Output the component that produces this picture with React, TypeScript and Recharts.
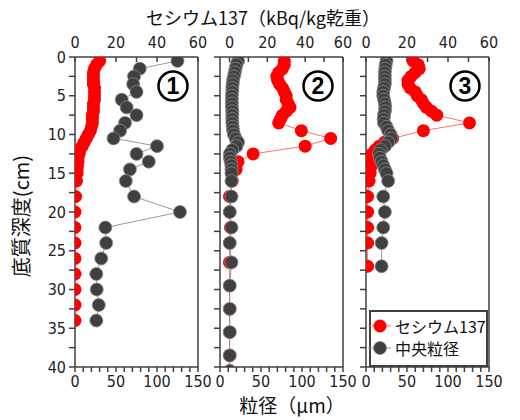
import React from 'react';
import { ScatterChart, Scatter, XAxis, YAxis } from 'recharts';

// axis ticks
const depthTicks = [0, 2.5, 5, 7.5, 10, 12.5, 15, 17.5, 20, 22.5, 25, 27.5, 30, 32.5, 35, 37.5, 40];
const grainTicks = [0, 10, 20, 30, 40, 50, 60, 70, 80, 90, 100, 110, 120, 130, 140, 150];
const csTicks = [0, 10, 20, 30, 40, 50, 60];

// ① セシウム137 / 中央粒径
const p1CsDepth = [0.5, 1, 1.5, 2, 2.5, 3, 3.5, 4, 4.5, 5, 5.5, 6, 6.5, 7, 7.5, 8, 8.5, 9, 9.5, 10, 10.5, 11, 11.5, 12, 12.5, 13, 13.5, 14, 14.5, 15, 16, 18, 20, 22, 24, 26, 28, 30, 32, 34];
const p1Cs = [12, 10.5, 9.5, 9, 9, 9, 9, 9.5, 9.5, 9.5, 9.5, 9, 9, 9, 8.5, 8.5, 8.5, 8, 7.5, 6.5, 5.5, 4.5, 3.5, 2.5, 2, 1.5, 1.5, 1.2, 1, 1, 0.7, 0.3, 0, 0, 0, 0, 0, 0, 0, 0];
const p1GrainDepth = [0.5, 1.5, 2.5, 3.5, 4.5, 5.5, 6.5, 7.5, 8.5, 9.5, 10.5, 11.5, 12.5, 13.5, 14.5, 16, 18, 20, 22, 24, 26, 28, 30, 32, 34];
const p1Grain = [125, 79, 72, 71, 75, 57, 63, 75, 61, 55, 47, 100, 75, 90, 67, 62, 72, 128, 37, 38, 32, 26, 26.5, 29, 26];

// ②
const p2CsDepth = [0.5, 1, 1.5, 2, 2.5, 3, 3.5, 4, 4.5, 5, 5.5, 6, 6.5, 7, 7.5, 8, 8.5, 9.5, 10.5, 11.5, 12.5, 13.5, 14.5, 16, 18, 20, 22, 24, 26.5, 29.5, 32.5, 35.5, 38.5, 40.5];
const p2Cs = [29, 29, 28, 26, 25, 25.5, 26.5, 28, 29, 30, 30, 31, 32, 30, 28, 27, 26, 38, 53.5, 40, 12.5, 4.5, 3.5, 1.5, 0, 0, 0.5, 0, 0, 0, 0, 0, 0, 0];
const p2GrainDepth = [0.5, 1, 1.5, 2, 2.5, 3, 3.5, 4, 4.5, 5, 5.5, 6, 6.5, 7, 7.5, 8, 8.5, 9, 9.5, 10, 10.5, 11, 11.5, 12, 12.5, 13, 13.5, 14, 14.5, 15, 16, 18, 20, 22, 24, 26.5, 29.5, 32.5, 35.5, 38.5, 40.5];
const p2Grain = [22, 20, 19, 18, 17, 16, 15.5, 15, 15, 14.5, 14.5, 14.5, 14.5, 15, 15, 15, 15, 15.5, 16, 17, 19, 22, 20, 15, 12, 12, 13, 14, 14, 14, 14, 14, 12, 14, 12, 14, 12, 12, 12, 12, 12];

// ③
const p3CsDepth = [0.5, 1, 1.5, 2, 2.5, 3, 3.5, 4, 4.5, 5, 5.5, 6, 6.5, 7, 7.5, 8.5, 9.5, 10.5, 11, 11.5, 12, 12.5, 13, 13.5, 14, 14.5, 15, 16, 18, 20, 22, 24, 27];
const p3Cs = [23, 25.5, 26, 24, 22, 20.5, 20.5, 21.5, 24, 25, 27, 28, 29.5, 32, 34.5, 50.5, 28, 13, 9, 6.5, 4.5, 3, 2.5, 2.5, 2.5, 2, 2, 1.5, 0.8, 0.8, 0.8, 0.8, 0.8];
const p3GrainDepth = [0.5, 1, 1.5, 2, 2.5, 3, 3.5, 4, 4.5, 5, 5.5, 6, 6.5, 7, 7.5, 8, 8.5, 9, 9.5, 10, 10.5, 11, 11.5, 12, 12.5, 13, 13.5, 14, 14.5, 15, 16, 18, 20, 22, 24, 27];
const p3Grain = [25, 24, 23.5, 23, 23, 23, 23, 22, 21, 21, 22, 23, 23.5, 23, 22, 21.5, 22, 25, 27, 30, 31, 27, 23, 18, 16, 17, 19, 21, 23, 25, 27, 21, 23, 21, 19, 19];

const toPoints = (depths: number[], values: number[]) => depths.map((d, i) => ({ x: values[i], y: d }));

const AXIS = '#404040';
const axisStyle = { stroke: AXIS, strokeWidth: 1.5 };
const tickFont = { fill: '#222', fontSize: 16, fontFamily: "'Liberation Sans Narrow', 'DejaVu Sans Condensed', 'Liberation Sans', sans-serif" };
const jpFont = "'Noto Sans CJK JP', sans-serif";

const PLOT_W = 123;
const LEFT_W = 40;
const RIGHT_W = 25;

const redDot = (p: any) => <circle cx={p.cx} cy={p.cy} r={6.5} fill="#ff0000" />;
const grayDot = (p: any) => <circle cx={p.cx} cy={p.cy} r={6.5} fill="#404040" stroke="#8a8a8a" strokeWidth={0.8} />;

interface PanelProps {
  plotLeft: number;
  csDomain: [number, number];
  cs: { x: number; y: number }[];
  grain: { x: number; y: number }[];
  depthLabels: boolean;
}

const Panel: React.FC<PanelProps> = ({ plotLeft, csDomain, cs, grain, depthLabels }) => (
  <div style={{ position: 'absolute', left: plotLeft - LEFT_W, top: 0 }}>
    <ScatterChart width={LEFT_W + PLOT_W + RIGHT_W} height={420} margin={{ top: 0, right: 0, bottom: 0, left: 0 }}>
      <XAxis
        xAxisId="cs" orientation="top" type="number" dataKey="x" domain={csDomain} ticks={csTicks} interval={0}
        tickFormatter={(v: number) => (v % 20 === 0 ? String(v) : '')}
        height={57} tickSize={-5} tickMargin={14} allowDataOverflow
        axisLine={axisStyle} tickLine={axisStyle} tick={tickFont}
      />
      <XAxis
        xAxisId="grain" orientation="bottom" type="number" dataKey="x" domain={[0, 150]} ticks={grainTicks} interval={0}
        tickFormatter={(v: number) => (v % 50 === 0 ? String(v) : '')}
        height={53} tickSize={5} tickMargin={4} allowDataOverflow
        axisLine={axisStyle} tickLine={axisStyle} tick={tickFont}
      />
      <YAxis
        yAxisId="d" type="number" dataKey="y" domain={[0, 40]} reversed ticks={depthTicks} interval={0}
        tickFormatter={(v: number) => (depthLabels && v % 5 === 0 ? String(v) : '')}
        width={LEFT_W} tickSize={6} tickMargin={3} allowDataOverflow
        axisLine={axisStyle} tickLine={axisStyle} tick={tickFont}
      />
      <YAxis
        yAxisId="r" orientation="right" type="number" dataKey="y" domain={[0, 40]} reversed ticks={depthTicks} interval={0}
        width={RIGHT_W} tickSize={-5} tick={false} allowDataOverflow
        axisLine={axisStyle} tickLine={axisStyle}
      />
      <Scatter
        xAxisId="cs" yAxisId="d" data={cs} shape={redDot} isAnimationActive={false}
        line={{ stroke: '#ff7070', strokeWidth: 1 }} lineType="joint"
      />
      <Scatter
        xAxisId="grain" yAxisId="d" data={grain} shape={grayDot} isAnimationActive={false}
        line={{ stroke: '#9a9a9a', strokeWidth: 1 }} lineType="joint"
      />
    </ScatterChart>
  </div>
);

const CircledNum = ({ cx, cy, n }: { cx: number; cy: number; n: string }) => (
  <g>
    <circle cx={cx} cy={cy} r={14.5} fill="#fff" stroke="#000" strokeWidth={2.5} />
    <text x={cx} y={cy + 8} textAnchor="middle" fontSize={23} fontWeight="bold" fontFamily="'Liberation Sans', Arial, sans-serif" fill="#000">
      {n}
    </text>
  </g>
);

export default function App() {
  return (
    <div style={{ position: 'absolute', left: 0, top: 0, width: 520, height: 420, overflow: 'hidden', background: '#fff' }}>
      <Panel plotLeft={75} csDomain={[0, 60]} cs={toPoints(p1CsDepth, p1Cs)} grain={toPoints(p1GrainDepth, p1Grain)} depthLabels />
      <Panel plotLeft={220} csDomain={[-5, 60]} cs={toPoints(p2CsDepth, p2Cs)} grain={toPoints(p2GrainDepth, p2Grain)} depthLabels={false} />
      <Panel plotLeft={366} csDomain={[0, 60]} cs={toPoints(p3CsDepth, p3Cs)} grain={toPoints(p3GrainDepth, p3Grain)} depthLabels={false} />
      <svg width={520} height={420} style={{ position: 'absolute', left: 0, top: 0, pointerEvents: 'none' }}>
        <text x={263} y={25} textAnchor="middle" fontSize={18} fontFamily={jpFont} fill="#111">
          セシウム137（kBq/kg乾重）
        </text>
        <text x={292} y={413} textAnchor="middle" fontSize={19} fontFamily={jpFont} fill="#111">
          粒径（μm）
        </text>
        <text x={0} y={0} transform="translate(29,216) rotate(-90)" textAnchor="middle" fontSize={20} fontFamily={jpFont} fill="#111">
          底質深度(cm)
        </text>
        <CircledNum cx={173} cy={86} n="1" />
        <CircledNum cx={318} cy={86} n="2" />
        <CircledNum cx={465} cy={86} n="3" />
        <rect x={370} y={311} width={117} height={55} fill="#fff" stroke={AXIS} strokeWidth={2} />
        <line x1={368} y1={326} x2={391} y2={326} stroke="#ff7070" strokeWidth={1} />
        <circle cx={380} cy={326} r={6.5} fill="#ff0000" />
        <text x={395} y={333} fontSize={16} fontFamily={jpFont} fill="#111">セシウム137</text>
        <line x1={368} y1={348} x2={391} y2={348} stroke="#9a9a9a" strokeWidth={1} />
        <circle cx={380} cy={348} r={6.5} fill="#404040" stroke="#8a8a8a" strokeWidth={0.8} />
        <text x={395} y={355} fontSize={16} fontFamily={jpFont} fill="#111">中央粒径</text>
      </svg>
    </div>
  );
}
